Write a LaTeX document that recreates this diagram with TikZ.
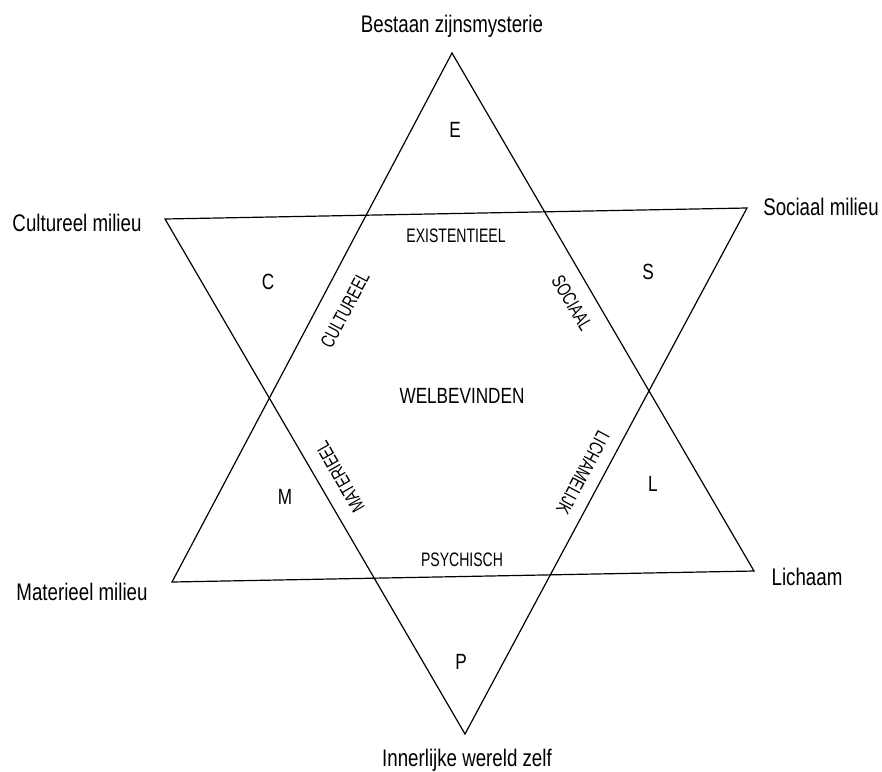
\documentclass[tikz,border=0pt]{standalone}
\usepackage{fontspec}
\setmainfont[FakeStretch=0.78]{Liberation Sans}
\newfontfamily\narrowfont[FakeStretch=0.72]{Liberation Sans}
\begin{document}
\begin{tikzpicture}[x=1pt,y=-1pt,
  edge/.style={line width=1.2pt, line join=miter},
  outer/.style={font=\fontsize{24}{26}\selectfont, inner sep=0pt},
  letter/.style={font=\fontsize{22}{24}\selectfont, inner sep=0pt},
  inner/.style={font=\narrowfont\fontsize{19.5}{21}\selectfont, inner sep=0pt}]
\useasboundingbox (0,0) rectangle (882,771);
% vertices
\coordinate (T) at (452,53);
\coordinate (LL) at (172,582);
\coordinate (LR) at (754,571);
\coordinate (UL) at (165,219);
\coordinate (UR) at (747,208);
\coordinate (B) at (465,734);
% triangles
\draw[edge] (T) -- (LL) -- (LR) -- cycle;
\draw[edge] (UL) -- (UR) -- (B) -- cycle;
% outer labels
\node[outer] (lt) at (452,26) {Bestaan zijnsmysterie};
\node[outer] (lul) at (77,223) {Cultureel milieu};
\node[outer] (lur) at (821,207) {Sociaal milieu};
\node[outer] (lll) at (82,592) {Materieel milieu};
\node[outer] (llr) at (807,577) {Lichaam};
\node[outer] (lb) at (467,760) {Innerlijke wereld zelf};
% point letters
\node[letter] (e) at (455,130) {E};
\node[letter] (c) at (268,282) {C};
\node[letter] (s) at (648,272) {S};
\node[letter] (m) at (285,497) {M};
\node[letter] (l) at (653,484) {L};
\node[letter] (p) at (461,662) {P};
% inner labels
\node[inner] (ex) at (456,236) {EXISTENTIEEL};
\node[inner, rotate=62] (cu) at (345,310) {CULTUREEL};
\node[inner, rotate=-60] (so) at (572,303) {SOCIAAL};
\node[inner, rotate=120] (ma) at (340,477) {MATERIEEL};
\node[inner, rotate=-118] (li) at (583,473) {LICHAMELIJK};
\node[inner] (ps) at (462,560) {PSYCHISCH};
\node[letter] (wb) at (462,396) {WELBEVINDEN};
\end{tikzpicture}
\end{document}
